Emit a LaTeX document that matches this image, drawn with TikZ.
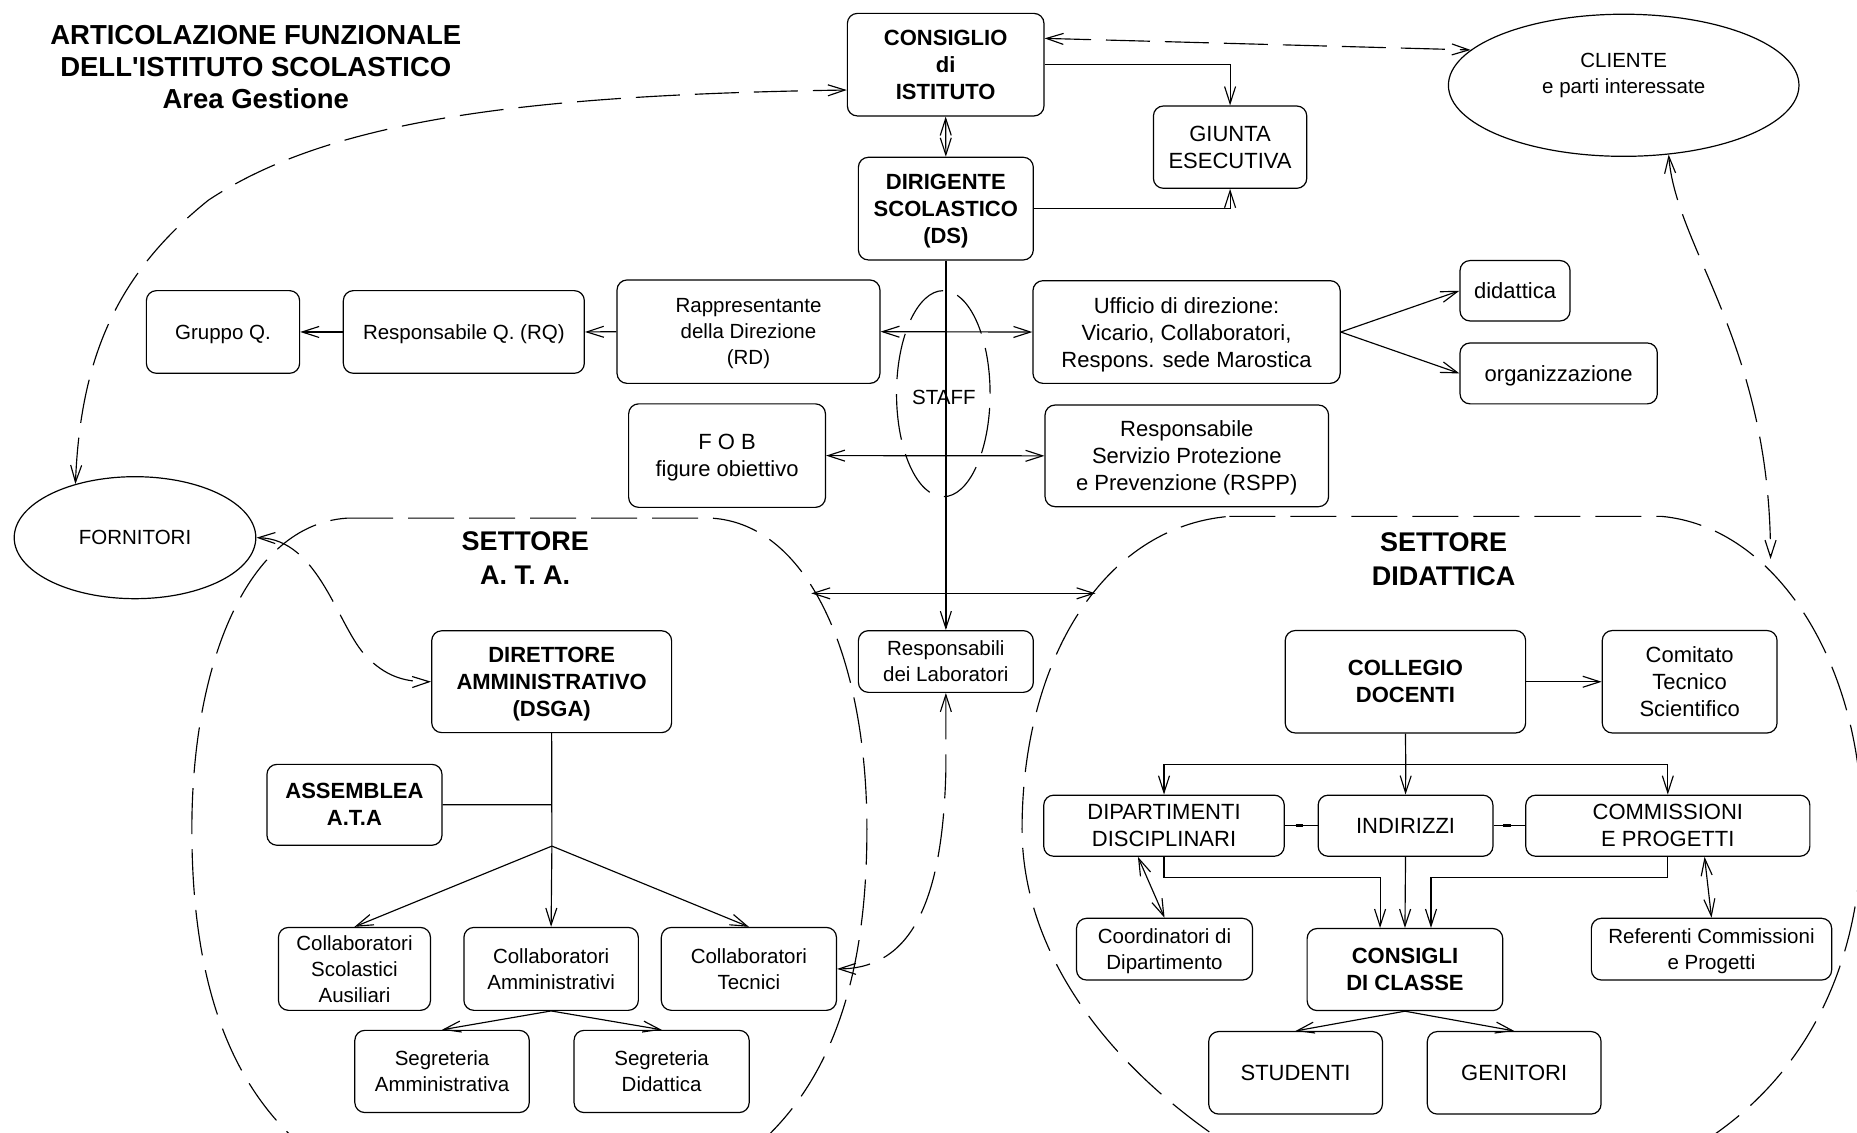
\documentclass[tikz,border=0pt]{standalone}
\usepackage{fontspec}
\setmainfont{Liberation Sans}
\usetikzlibrary{arrows.meta,shapes.geometric,calc}
\newcommand\fntB{\fontsize{22}{27}\selectfont\bfseries}
\newcommand\fntN{\fontsize{22}{27}\selectfont}
\newcommand\fntS{\fontsize{20.5}{26}\selectfont}
\newcommand\fntT{\fontsize{27.5}{32}\selectfont\bfseries}
\newcommand\fntH{\fontsize{27}{34}\selectfont\bfseries}
\newcommand\bx[7][]{\node[box,#1,minimum width={(#5-#3)*1.1843pt},minimum height={(#6-#4)*1.1843pt}] (#2) at ({(#3+#5)/2},{(#4+#6)/2}) {#7};}
\begin{document}
\begin{tikzpicture}[x=1.1843pt,y=-1.1843pt,
  box/.style={draw,rounded corners=10pt,line width=1.2pt,align=center,inner sep=1pt,text depth=0pt,font=\fntN},
  ln/.style={line width=1.15pt},
  arr/.style={ln,-{Straight Barb[length=17pt,width=11pt]}},
  darr/.style={ln,{Straight Barb[length=17pt,width=11pt]}-{Straight Barb[length=17pt,width=11pt]}},
  dsh/.style={dash pattern=on 44pt off 15pt},
  region/.style={line width=1.15pt,dash pattern=on 46pt off 15pt}]
\useasboundingbox (0,0) rectangle (1568,956);

% dashed sector regions
\begin{scope}
\clip (0,0) rectangle (1568,956);
\draw[region] (293,437.5) -- (601,437.5) .. controls (685,443) and (732,560) .. (732,700)
  .. controls (732,830) and (700,920) .. (630,975) -- (264,975)
  .. controls (194,920) and (162,830) .. (162,700) .. controls (162,560) and (209,443) .. (293,437.5);
\draw[region] (1038,436) -- (1403,436) .. controls (1500,445) and (1570,560) .. (1572,690)
  .. controls (1574,820) and (1520,920) .. (1420,975) -- (1050,975)
  .. controls (930,900) and (863,800) .. (863,700) .. controls (863,560) and (930,445) .. (1038,436);
\end{scope}

% title
\node[align=center,font=\fntT] (title) at (216,56.5) {ARTICOLAZIONE FUNZIONALE\\DELL\textquotesingle ISTITUTO SCOLASTICO\\Area Gestione};

% top part
\bx[font=\fntB]{con}{715.5}{11.3}{881.5}{97.9}{CONSIGLIO\\di\\ISTITUTO}
\bx[font=\fntB]{ds}{724.8}{132.8}{872.5}{219.5}{DIRIGENTE\\SCOLASTICO\\(DS)}
\bx{giunta}{973.9}{89.5}{1103.4}{159}{GIUNTA\\ESECUTIVA}
\node[draw,ellipse,line width=1.2pt,minimum width={296*1.1843pt},minimum height={120*1.1843pt},inner sep=0pt] (cli) at (1371,72) {};
\node[align=center,font=\fntS] (clit) at (1371,64) {CLIENTE\\e parti interessate};

\bx[font=\fntS]{gq}{123.6}{245.4}{253}{315.2}{Gruppo Q.}
\bx[font=\fntS]{rq}{289.9}{245.4}{493.4}{315.2}{Responsabile Q. (RQ)}
\bx[font=\fntS]{rd}{521}{236.4}{743}{323.7}{Rappresentante\\della Direzione\\(RD)}
\bx{uff}{872.2}{237}{1131.6}{323.7}{Ufficio di direzione:\\Vicario, Collaboratori,\\Respons. sede Marostica}
\bx{did}{1232.8}{220}{1325.7}{271}{didattica}
\bx{org}{1232.8}{289.6}{1399.4}{341}{organizzazione}
\bx{fob}{530.8}{341}{697}{428.4}{F O B\\figure obiettivo}
\bx{rspp}{882.4}{342}{1121.8}{427.8}{Responsabile\\Servizio Protezione\\e Prevenzione (RSPP)}

\node[draw,ellipse,region,minimum width={79*1.1843pt},minimum height={174*1.1843pt},inner sep=0pt] (staff) at (796.5,332.4) {};
\node[font=\fntS] (stafft) at (797,336) {STAFF};

\node[draw,ellipse,line width=1.2pt,minimum width={204*1.1843pt},minimum height={103*1.1843pt},inner sep=0pt,font=\fntS] (forn) at (114,454) {FORNITORI};

% settore ATA
\node[font=\fntH,align=center] (ata) at (443.5,471.5) {SETTORE\\A. T. A.};
\bx[font=\fntB]{dsga}{364.5}{532.6}{567.1}{618.6}{DIRETTORE\\AMMINISTRATIVO\\(DSGA)}
\bx[font=\fntB]{asm}{225.4}{645.4}{373.2}{713.7}{ASSEMBLEA\\A.T.A}
\bx[font=\fntS]{csa}{235.1}{783.1}{363.5}{853.1}{Collaboratori\\Scolastici\\Ausiliari}
\bx[font=\fntS]{ca}{391.7}{783.1}{539}{853.1}{Collaboratori\\Amministrativi}
\bx[font=\fntS]{ct}{558.4}{783.1}{706.3}{853.1}{Collaboratori\\Tecnici}
\bx[font=\fntS]{sega}{299.6}{870}{446.9}{939.4}{Segreteria\\Amministrativa}
\bx[font=\fntS]{segd}{484.7}{870}{632.6}{939.4}{Segreteria\\Didattica}

\bx[font=\fntS]{labs}{724.8}{532.5}{872.5}{584.6}{Responsabili\\dei Laboratori}

% settore didattica
\node[font=\fntH,align=center] (didh) at (1219,472) {SETTORE\\DIDATTICA};
\bx[font=\fntB]{col}{1085.2}{532.4}{1288.2}{618.9}{COLLEGIO\\DOCENTI}
\bx{cts}{1352.9}{532.4}{1500.5}{618.9}{Comitato\\Tecnico\\Scientifico}
\bx{dip}{881.3}{671.4}{1084.4}{723}{DIPARTIMENTI\\DISCIPLINARI}
\bx{ind}{1113}{671.4}{1260.6}{723}{INDIRIZZI}
\bx{com}{1288.3}{671.4}{1528.2}{723}{COMMISSIONI\\E PROGETTI}
\bx[font=\fntS]{coo}{909}{775.4}{1057.6}{827.5}{Coordinatori di\\Dipartimento}
\bx[font=\fntS]{ref}{1343.7}{775.4}{1546.6}{827.5}{Referenti Commissioni\\e Progetti}
\bx[font=\fntB]{cdc}{1103.7}{784}{1268.9}{853.3}{CONSIGLI\\DI CLASSE}
\bx{stu}{1020.6}{871}{1167.3}{940.7}{STUDENTI}
\bx{gen}{1205.2}{871}{1351.9}{940.7}{GENITORI}

% coordinates
\coordinate (ataR) at (685,501);
\coordinate (didL) at (925,501);
\coordinate (didT) at (1495,472);
\coordinate (fork) at (466,714.4);
\coordinate (asj) at (466,679.5);
\coordinate (hb) at (1187,645.6);

% solid connectors
\draw[darr] (con.south) -- (ds.north);
\draw[arr] (con.east) -| (giunta.north);
\draw[arr] (ds.east) -| (giunta.south);
\draw[ln,line width=2.2pt,-{Straight Barb[length=17pt,width=11pt,line width=1.15pt]}] (ds.south) -- (labs.north);
\draw[arr] (rd.west) -- (rq.east);
\draw[arr] (rq.west) -- (gq.east);
\draw[darr] (rd.east) -- (uff.west);
\draw[darr] (fob.east) -- (rspp.west);
\draw[arr] (uff.east) -- (did.west);
\draw[arr] (uff.east) -- (org.west);
\draw[darr] (ataR) -- (didL);

\draw[ln] (dsga.south) -- (fork);
\draw[ln] (asm.east) -- (asj);
\draw[arr] (fork) -- (csa.north);
\draw[arr] (fork) -- (ca.north);
\draw[arr] (fork) -- (ct.north);
\draw[arr] (ca.south) -- (sega.north);
\draw[arr] (ca.south) -- (segd.north);

\draw[arr] (col.east) -- (cts.west);
\draw[ln] (col.south) -- (hb);
\draw[arr] (hb) -| (dip.north);
\draw[arr] (hb) -| (com.north);
\draw[arr] (hb) -- (ind.north);
\draw[ln] (dip.east) -- (ind.west);
\draw[ln] (ind.east) -- (com.west);
\draw[line width=2.6pt] ($(ind.west)+(-18.5,0)$) -- ++(6.5,0);
\draw[line width=2.6pt] ($(com.west)+(-18.5,0)$) -- ++(6.5,0);
\draw[arr] (dip.south) -- ++(0,17.7) -| ($(cdc.north)+(-21,0)$);
\draw[arr] (ind.south) -- (cdc.north);
\draw[arr] (com.south) -- ++(0,17.7) -| ($(cdc.north)+(22,0)$);
\draw[darr] ($(dip.south)+(-22,0)$) -- (coo.north);
\draw[darr] ($(com.south)+(31,0)$) -- (ref.north);
\draw[arr] (cdc.south) -- (stu.north);
\draw[arr] (cdc.south) -- (gen.north);

% dashed connectors
\draw[darr,dsh] ($(con.east)+(0,-22.2)$) -- (cli.167);
\draw[darr,dsh] (forn.138) .. controls (68,300) and (100,230) .. (176,169)
  .. controls (280,100) and (450,80) .. ($(con.west)+(0,21.4)$);
\draw[darr,dsh] (cli.303) .. controls (1415,210) and (1495,290) .. (didT);
\draw[darr,dsh] (forn.east) .. controls (270,455) and (285,530) .. (310,555)
  .. controls (325,570) and (340,576) .. (dsga.west);
\draw[darr,dsh] (labs.south) -- ++(0,66) .. controls (796,760) and (770,818) .. (ct.east);
\end{tikzpicture}
\end{document}
